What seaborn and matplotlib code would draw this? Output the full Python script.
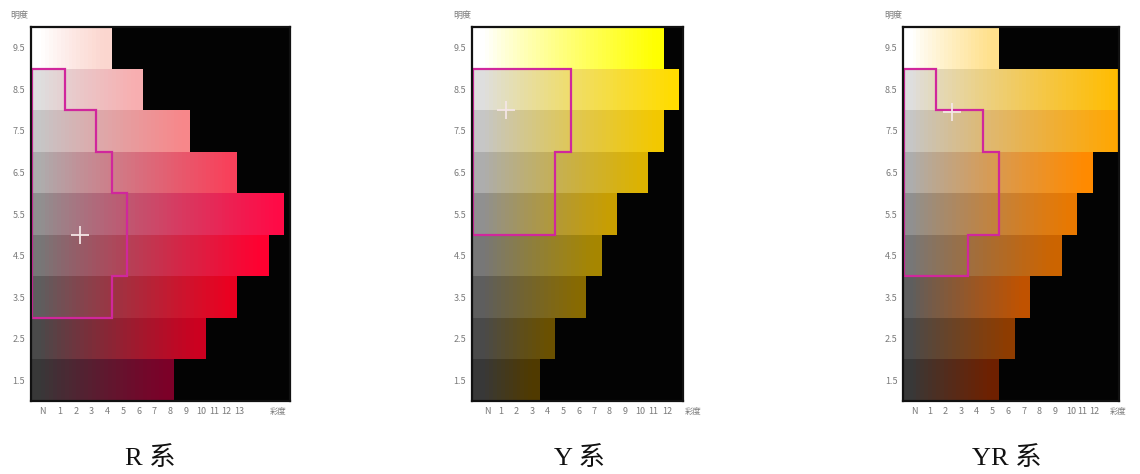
import numpy as np
import matplotlib
matplotlib.use("Agg")
import matplotlib.pyplot as plt
from matplotlib.colors import ListedColormap, to_rgb
import seaborn as sns

# value rows (top to bottom) and chroma tick labels
values = ["9.5", "8.5", "7.5", "6.5", "5.5", "4.5", "3.5", "2.5", "1.5"]
r_chroma_labels = ["N", "1", "2", "3", "4", "5", "6", "7", "8", "9", "10", "11", "12", "13"]
y_chroma_labels = ["N", "1", "2", "3", "4", "5", "6", "7", "8", "9", "10", "11", "12"]
yr_chroma_labels = ["N", "1", "2", "3", "4", "5", "6", "7", "8", "9", "10", "11", "12"]

# highest chroma reached in each value row
r_max_chroma = [4, 6, 9, 12, 15, 14, 12, 10, 8]
y_max_chroma = [11, 12, 11, 10, 8, 7, 6, 4, 3]
yr_max_chroma = [5, 13, 13, 11, 10, 9, 7, 6, 5]

# neutral grey of each row and the colour at its highest chroma
neutral = ["#ffffff", "#dedede", "#c6c6c6", "#adadad", "#909090",
           "#777777", "#5e5e5e", "#4a4a4a", "#383838"]
r_full = ["#fbd6cf", "#f7aeb0", "#f7878a", "#f8405a", "#ff0a46",
          "#ff0030", "#ea0020", "#cc0020", "#7c0028"]
y_full = ["#ffff00", "#ffdc00", "#f2c800", "#dcb200", "#c89e00",
          "#a68600", "#886a00", "#6a5000", "#503a00"]
yr_full = ["#ffe08c", "#ffbc00", "#ffa600", "#ff8a00", "#e87800",
           "#cc6400", "#c05200", "#8e3c00", "#6e2000"]

# magenta outline: (value top, value bottom, chroma edge)
r_outline = [(9, 8, 1.5), (8, 7, 3.5), (7, 6, 4.5), (6, 4, 5.5), (4, 3, 4.5)]
y_outline = [(9, 7, 5.5), (7, 5, 4.5)]
yr_outline = [(9, 8, 1.5), (8, 7, 4.5), (7, 5, 5.5), (5, 4, 3.5)]

# crosshair marks (chroma, value)
r_cross = (2.5, 5.0)
y_cross = (1.3, 8.0)
yr_cross = (2.5, 7.95)

W, H = 1140, 474
STEP = 0.25      # chroma width of one heatmap column
C0 = -1.0        # chroma at the left of the first column
NCOL = 68


def h(c):
    # chroma -> heatmap column coordinate
    return (c - C0) / STEP


def draw_panel(ax, max_c, full, outline, cross, labels, xlim, tick_shift, squeeze, sat_pos):
    colors = []
    idx = np.zeros((len(values), NCOL), dtype=int)
    for i in range(len(values)):
        g = np.array(to_rgb(neutral[i]))
        f = np.array(to_rgb(full[i]))
        for j in range(NCOL):
            cc = C0 + STEP * (j + 0.5)
            if cc < max_c[i] + 0.5:
                t = (min(max(cc, 0), max_c[i]) / max_c[i]) ** 0.85
                colors.append(tuple(g * (1 - t) + f * t))
            else:
                colors.append((0.01, 0.01, 0.01))
            idx[i, j] = len(colors) - 1
    sns.heatmap(idx, cmap=ListedColormap(colors), vmin=-0.5, vmax=len(colors) - 0.5,
                cbar=False, ax=ax, xticklabels=False, yticklabels=False)
    ax.set_xlim(h(xlim[0]), h(xlim[1]))
    ax.set_ylim(len(values), 0)

    for s in ax.spines.values():
        s.set_visible(True)
        s.set_color("#111111")
        s.set_linewidth(1.6)

    # outline
    left = xlim[0] + 0.06
    xs = [h(left)]
    ys = [10 - outline[0][0]]
    for vt, vb, ce in outline:
        xs += [h(ce), h(ce)]
        ys += [10 - vt, 10 - vb]
    xs += [h(left), h(left)]
    ys += [10 - outline[-1][1], 10 - outline[0][0]]
    ax.plot(xs, ys, color="#d0279c", lw=1.6, solid_joinstyle="miter")

    ax.scatter([h(cross[0])], [10 - cross[1]], marker="+", s=150,
               color="#f4e6e6", linewidths=1.3, zorder=5)

    ax.set_yticks(np.arange(len(values)) + 0.5)
    ax.set_yticklabels(values)
    ticks = []
    for k in range(len(labels)):
        pos = 0.1 if k == 0 else k + tick_shift
        if k >= 11:
            pos -= squeeze * (k - 10)
        ticks.append(h(pos))
    ax.set_xticks(ticks)
    ax.set_xticklabels(labels)
    ax.tick_params(length=0, labelsize=6.5, labelcolor="#7a7a7a", pad=4)
    for lab in ax.get_xticklabels() + ax.get_yticklabels():
        lab.set_rotation(0)
    ax.text(h(sat_pos), -10.5 / 374, "彩度", transform=ax.get_xaxis_transform(),
            ha="center", va="center", fontsize=6, color="#7a7a7a", clip_on=False)
    ax.text(-0.045, 1 + 12 / 374, "明度", transform=ax.transAxes,
            ha="center", va="center", fontsize=6.5, color="#7a7a7a")


sns.set_style("white")
plt.rcParams["font.family"] = ["Noto Sans CJK SC", "DejaVu Sans"]

fig = plt.figure(figsize=(W / 100, H / 100), dpi=100)

panels = [
    # (left px, right px, data..., xlim, tick shift, squeeze, 彩度 pos, caption, caption x)
    (30.7, 290.0, r_max_chroma, r_full, r_outline, r_cross, r_chroma_labels,
     (-0.66, 15.86), 0.22, 0.2, 15.1, "R 系", 150),
    (471.7, 683.0, y_max_chroma, y_full, y_outline, y_cross, y_chroma_labels,
     (-0.89, 12.74), 0.0, 0.15, 13.4, "Y 系", 580),
    (903.3, 1119.0, yr_max_chroma, yr_full, yr_outline, yr_cross, yr_chroma_labels,
     (-0.59, 13.15), 0.08, 0.25, 13.1, "YR 系", 1007),
]

for (lx, rx, mc, full, outl, cross, labs, xlim, shift, sq, satp, cap, capx) in panels:
    ax = fig.add_axes([lx / W, 1 - 401 / H, (rx - lx) / W, 374 / H])
    draw_panel(ax, mc, full, outl, cross, labs, xlim, shift, sq, satp)
    fig.text(capx / W, 1 - 458 / H, cap, ha="center", va="center", fontsize=19,
             family=["Liberation Serif", "Noto Sans CJK SC"], color="#111111")

fig.savefig("out.png", dpi=100)
